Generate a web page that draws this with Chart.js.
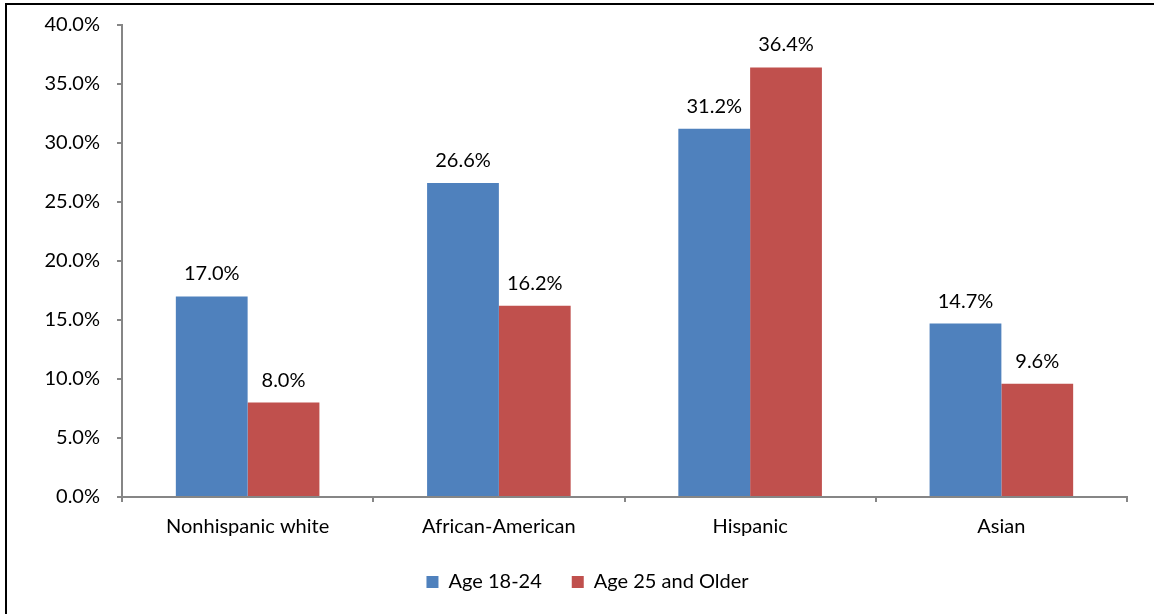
<!DOCTYPE html>
<html>
<head>
<meta charset="utf-8">
<script src="https://cdn.jsdelivr.net/npm/chart.js@4.4.0/dist/chart.umd.min.js"></script>
<style>
  html, body { margin: 0; padding: 0; background: #fff; }
  #wrap { position: absolute; left: 0; top: 0; width: 1154px; height: 614px; }
</style>
</head>
<body>
<div id="wrap"><canvas id="c" width="1154" height="614"></canvas></div>
<script>
const categories = ["Nonhispanic white", "African-American", "Hispanic", "Asian"];
const seriesNames = ["Age 18-24", "Age 25 and Older"];
const age18to24 = [17.0, 26.6, 31.2, 14.7];
const age25plus = [8.0, 16.2, 36.4, 9.6];
const yMin = 0, yMax = 40, yStep = 5;

const FONT = "Lato, 'Open Sans', sans-serif";
const FS = 20;

const frame = {
  id: 'frame',
  beforeDraw(chart) {
    const ctx = chart.ctx;
    ctx.save();
    ctx.fillStyle = '#fff';
    ctx.fillRect(0, 0, chart.width, chart.height);
    ctx.fillStyle = '#000';
    ctx.fillRect(5, 3, chart.width - 5, 2);
    ctx.fillRect(5, 3, 2, chart.height - 3);
    ctx.restore();
  }
};

const legendShift = {
  id: 'legendShift',
  afterLayout(chart) {
    const l = chart.legend;
    if (l) { l.left += 24; l.right += 24; }
  }
};

const valueLabels = {
  id: 'valueLabels',
  afterDatasetsDraw(chart) {
    const ctx = chart.ctx;
    ctx.save();
    ctx.font = FS + "px " + FONT;
    ctx.fillStyle = '#000';
    ctx.textAlign = 'center';
    ctx.textBaseline = 'alphabetic';
    chart.data.datasets.forEach((ds, i) => {
      chart.getDatasetMeta(i).data.forEach((bar, j) => {
        ctx.fillText(ds.data[j].toFixed(1) + '%', bar.x, bar.y - 16);
      });
    });
    ctx.restore();
  }
};

new Chart(document.getElementById('c'), {
  type: 'bar',
  data: {
    labels: categories,
    datasets: [
      { label: seriesNames[0], data: age18to24, backgroundColor: '#4F81BD' },
      { label: seriesNames[1], data: age25plus, backgroundColor: '#C0504D' }
    ]
  },
  options: {
    responsive: false,
    animation: false,
    devicePixelRatio: 1,
    layout: { autoPadding: false, padding: { top: 25, right: 27, left: 0, bottom: 12 } },
    datasets: { bar: { categoryPercentage: 2 / 3.5, barPercentage: 1.0 } },
    plugins: {
      legend: {
        position: 'bottom',
        labels: {
          boxWidth: 12, boxHeight: 12, padding: 30,
          color: '#000',
          font: { family: FONT, size: FS }
        }
      },
      tooltip: { enabled: false }
    },
    scales: {
      x: {
        grid: { drawOnChartArea: false, tickLength: 5, color: '#868686', lineWidth: 2 },
        border: { color: '#868686', width: 2 },
        ticks: { color: '#000', padding: 13, font: { family: FONT, size: FS } },
        afterFit(scale) { scale.height = 45; scale.paddingLeft = 0; scale.paddingRight = 0; }
      },
      y: {
        min: yMin, max: yMax,
        grid: { drawOnChartArea: false, tickLength: 5, color: '#868686', lineWidth: 2 },
        border: { color: '#868686', width: 2 },
        ticks: {
          stepSize: yStep, color: '#000', padding: 17,
          font: { family: FONT, size: FS },
          callback: v => Number(v).toFixed(1) + '%'
        },
        afterFit(scale) { scale.width = 122; scale.paddingTop = 0; scale.paddingBottom = 0; }
      }
    }
  },
  plugins: [frame, legendShift, valueLabels]
});
</script>
</body>
</html>
